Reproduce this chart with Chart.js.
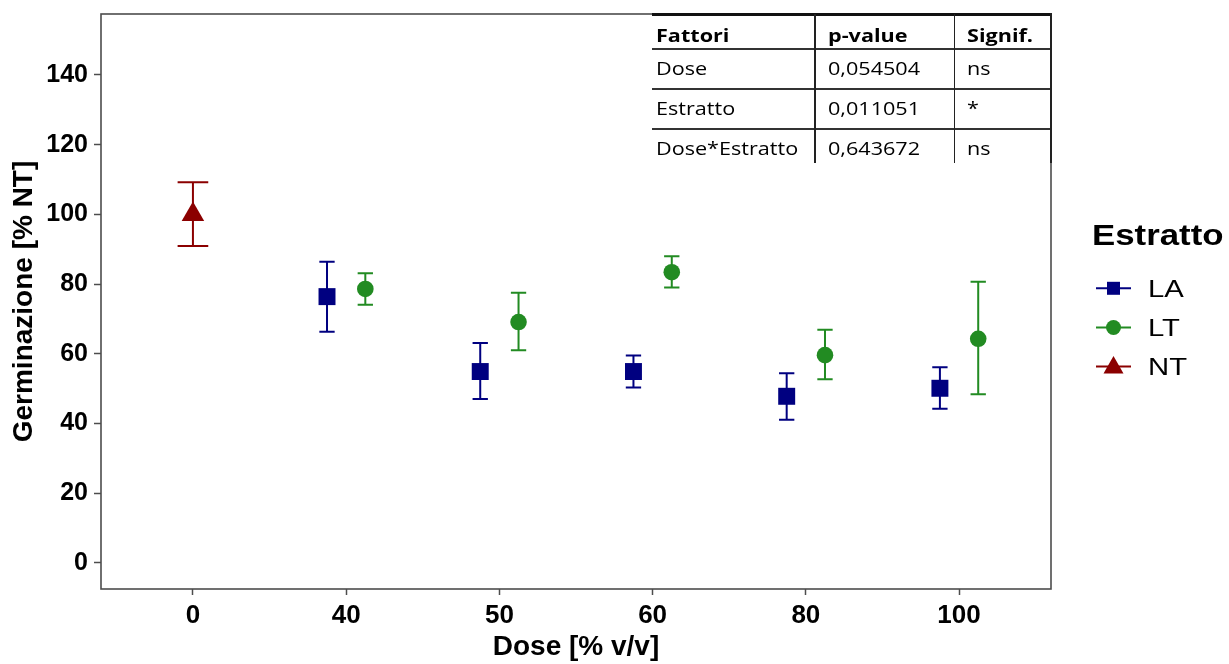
<!DOCTYPE html>
<html><head><meta charset="utf-8">
<script src="https://cdn.jsdelivr.net/npm/chart.js@4.4.0/dist/chart.umd.min.js"></script>
<style>
html,body{margin:0;padding:0;background:#fff;}
#wrap{position:relative;width:1229px;height:664px;overflow:hidden;background:#fff;}
#c{position:absolute;left:0;top:0;}
.tt{position:absolute;font-family:'Open Sans',sans-serif;font-size:18px;color:#000;white-space:nowrap;line-height:1;transform-origin:0 0;transform:scaleX(1.2);}
.ln{position:absolute;}
</style></head><body>
<div id="wrap"><canvas id="c" width="1229" height="664"></canvas><div id="tbl"></div></div>
<script>
// ---- data ----
const doses = ['0', '40', '50', '60', '80', '100'];
const yTicks = [0, 20, 40, 60, 80, 100, 120, 140];
const seriesNames = ['LA', 'LT', 'NT'];
const ntDoses = ['0'];
const ntMean = [100.0];
const ntLow = [90.9];
const ntHigh = [109.2];
const laDoses = ['40', '50', '60', '80', '100'];
const laMean = [76.4, 54.9, 54.9, 47.8, 50.1];
const laLow = [66.3, 47.0, 50.3, 41.1, 44.2];
const laHigh = [86.4, 63.1, 59.5, 54.4, 56.1];
const ltDoses = ['40', '50', '60', '80', '100'];
const ltMean = [78.6, 69.1, 83.4, 59.6, 64.3];
const ltLow = [74.1, 61.0, 79.0, 52.7, 48.4];
const ltHigh = [83.1, 77.5, 88.0, 66.9, 80.7];
const tableHeader = ['Fattori', 'p-value', 'Signif.'];
const tableRows = [
  ['Dose', '0,054504', 'ns'],
  ['Estratto', '0,011051', '*'],
  ['Dose*Estratto', '0,643672', 'ns']
];

// ---- styling ----
const COLORS = {LA: '#000080', LT: '#228B22', NT: '#8B0000'};
const DODGE = 0.125;
const FONT = "'Liberation Sans', Arial, sans-serif";
const AXIS_GRAY = '#4d4d4d';

function build(ds, mean, lo, hi, off, cap) {
  return ds.map((d, i) => ({x: doses.indexOf(d) + 1 + off, y: mean[i], yMin: lo[i], yMax: hi[i], cap: cap}));
}

const errorBars = {
  id: 'errorBars',
  beforeDatasetsDraw(chart) {
    const ctx = chart.ctx, xs = chart.scales.x, ys = chart.scales.y;
    chart.data.datasets.forEach(ds => {
      ctx.save();
      ctx.strokeStyle = ds.borderColor;
      ctx.lineWidth = 2;
      ds.data.forEach(p => {
        const xp = xs.getPixelForValue(p.x);
        const hw = xs.getPixelForValue(p.x + p.cap / 2) - xp;
        const y1 = ys.getPixelForValue(p.yMin), y2 = ys.getPixelForValue(p.yMax);
        ctx.beginPath();
        ctx.moveTo(xp, y1); ctx.lineTo(xp, y2);
        ctx.moveTo(xp - hw, y1); ctx.lineTo(xp + hw, y1);
        ctx.moveTo(xp - hw, y2); ctx.lineTo(xp + hw, y2);
        ctx.stroke();
      });
      ctx.restore();
    });
  }
};

const panelBorder = {
  id: 'panelBorder',
  afterDatasetsDraw(chart) {
    const {ctx, chartArea: a} = chart;
    ctx.save();
    ctx.strokeStyle = AXIS_GRAY;
    ctx.lineWidth = 1.6;
    ctx.strokeRect(a.left, a.top, a.right - a.left, a.bottom - a.top);
    ctx.restore();
  }
};

function drawMarker(ctx, style, x, y, s) {
  ctx.beginPath();
  if (style === 'rect') {
    ctx.rect(x - s / 2, y - s / 2, s, s);
  } else if (style === 'circle') {
    ctx.arc(x, y, s / 2, 0, Math.PI * 2);
  } else {
    const h = s * 0.87;
    ctx.moveTo(x, y - h * 0.6);
    ctx.lineTo(x + s / 2, y + h * 0.4);
    ctx.lineTo(x - s / 2, y + h * 0.4);
    ctx.closePath();
  }
  ctx.fill();
}

function wideText(ctx, txt, x, y, sx) {
  ctx.save();
  ctx.translate(x, y);
  ctx.scale(sx, 1);
  ctx.fillText(txt, 0, 0);
  ctx.restore();
}

const legendPlugin = {
  id: 'customLegend',
  afterDraw(chart) {
    const ctx = chart.ctx;
    ctx.save();
    ctx.fillStyle = '#000';
    ctx.textAlign = 'left';
    ctx.textBaseline = 'alphabetic';
    ctx.font = 'bold 29px ' + FONT;
    wideText(ctx, 'Estratto', 1092, 245, 1.2);
    const ys = [288.3, 327.5, 366.5];
    const styles = ['rect', 'circle', 'triangle'];
    const sizes = [13, 15, 20];
    seriesNames.forEach((n, i) => {
      const y = ys[i];
      ctx.strokeStyle = COLORS[n];
      ctx.fillStyle = COLORS[n];
      ctx.lineWidth = 2;
      ctx.beginPath(); ctx.moveTo(1096, y); ctx.lineTo(1131, y); ctx.stroke();
      drawMarker(ctx, styles[i], 1113.5, y, sizes[i]);
      ctx.fillStyle = '#000';
      ctx.font = '24px ' + FONT;
      wideText(ctx, n, 1148, y + 8.5, 1.22);
    });
    ctx.restore();
  }
};

new Chart(document.getElementById('c'), {
  type: 'scatter',
  data: {
    datasets: [
      {label: 'LA', data: build(laDoses, laMean, laLow, laHigh, -DODGE, 0.1), pointStyle: 'rect', pointRadius: 12, pointHoverRadius: 12,
       backgroundColor: COLORS.LA, borderColor: COLORS.LA, pointBorderWidth: 0},
      {label: 'LT', data: build(ltDoses, ltMean, ltLow, ltHigh, DODGE, 0.1), pointStyle: 'circle', pointRadius: 8.3, pointHoverRadius: 8.3,
       backgroundColor: COLORS.LT, borderColor: COLORS.LT, pointBorderWidth: 0},
      {label: 'NT', data: build(ntDoses, ntMean, ntLow, ntHigh, 0, 0.2), pointStyle: 'triangle', pointRadius: 13, pointHoverRadius: 13,
       backgroundColor: COLORS.NT, borderColor: COLORS.NT, pointBorderWidth: 0}
    ]
  },
  options: {
    responsive: false,
    animation: false,
    events: [],
    layout: {padding: {left: 0, top: 14, right: 178, bottom: 0}},
    plugins: {legend: {display: false}, tooltip: {enabled: false}},
    scales: {
      x: {
        type: 'linear', min: 0.4, max: 6.6,
        afterFit(s) { s.height = 75; s.paddingLeft = 0; s.paddingRight = 0; },
        afterBuildTicks(s) { s.ticks = doses.map((d, i) => ({value: i + 1})); },
        ticks: {
          callback: (v) => doses[Math.round(v) - 1],
          font: {family: FONT, size: 26, weight: 'bold'}, color: '#000', padding: 5, maxRotation: 0, autoSkip: false
        },
        grid: {drawOnChartArea: false, drawTicks: true, tickLength: 6, color: AXIS_GRAY, tickColor: AXIS_GRAY, tickWidth: 1.5},
        border: {display: false},
        title: {display: true, text: 'Dose [% v/v]', color: '#000', font: {family: FONT, size: 28, weight: 'bold'}, padding: 0}
      },
      y: {
        type: 'linear', min: -7.5, max: 157.5,
        afterFit(s) { s.width = 101; s.paddingTop = 0; s.paddingBottom = 0; },
        afterBuildTicks(s) { s.ticks = yTicks.map(v => ({value: v})); },
        ticks: {font: {family: FONT, size: 25, weight: 'bold'}, color: '#000', padding: 6},
        grid: {drawOnChartArea: false, drawTicks: true, tickLength: 7, color: AXIS_GRAY, tickColor: AXIS_GRAY, tickWidth: 1.5},
        border: {display: false},
        title: {display: true, text: 'Germinazione [% NT]', color: '#000', font: {family: FONT, size: 28, weight: 'bold'}, padding: {top: 7, bottom: 0}}
      }
    }
  },
  plugins: [errorBars, panelBorder, legendPlugin]
});

// ---- table overlay ----
(function () {
  const t = document.getElementById('tbl');
  const colX = [656, 828, 967];
  const baselines = [39.5, 73, 113, 153];
  const rows = [tableHeader].concat(tableRows);
  function line(x, y, w, h, c) {
    const d = document.createElement('div');
    d.className = 'ln';
    d.style.cssText = `left:${x}px;top:${y}px;width:${w}px;height:${h}px;background:${c};`;
    t.appendChild(d);
  }
  line(652, 13, 400, 2.5, '#111');
  [48, 88, 128].forEach(y => line(652, y, 399, 1.5, '#333'));
  line(814.3, 14, 1.5, 149, '#222');
  line(953.6, 14, 1.5, 149, '#222');
  line(1049.8, 13, 2.6, 150, '#222');
  rows.forEach((r, ri) => {
    r.forEach((txt, ci) => {
      const s = document.createElement('span');
      s.className = 'tt';
      s.textContent = txt;
      s.style.left = colX[ci] + 'px';
      s.style.top = (baselines[ri] - 14) + 'px';
      if (ri === 0) s.style.fontWeight = 'bold';
      t.appendChild(s);
    });
  });
})();
</script>
</body></html>
